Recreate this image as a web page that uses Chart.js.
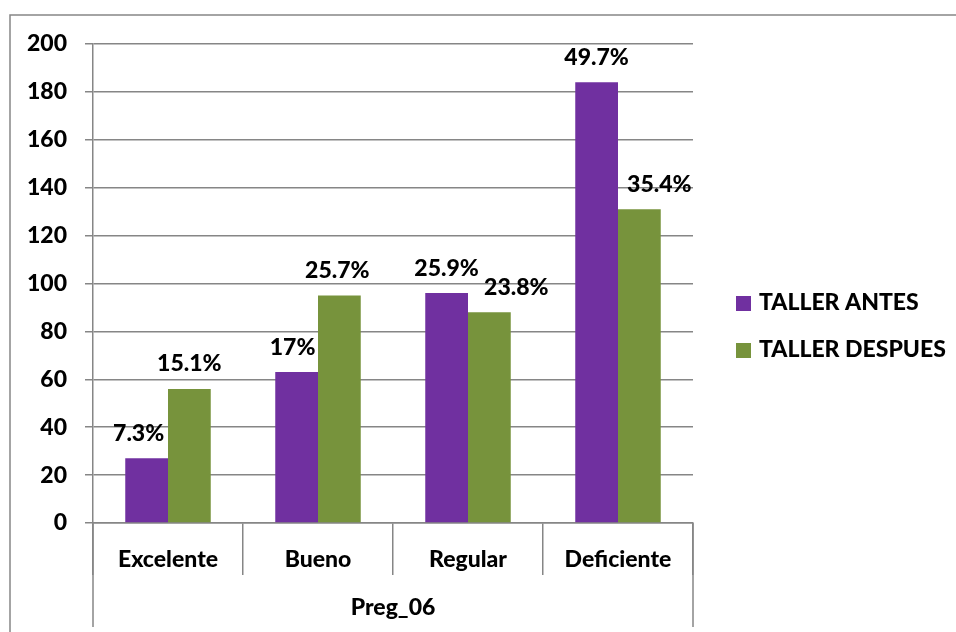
<!DOCTYPE html>
<html>
<head>
<meta charset="utf-8">
<script src="https://cdn.jsdelivr.net/npm/chart.js@4/dist/chart.umd.min.js"></script>
<style>
  body { margin: 0; background: #fff; }
  canvas { display: block; }
</style>
</head>
<body>
<canvas id="mycanvas" width="956" height="632"></canvas>
<script>
const categories = ['Excelente', 'Bueno', 'Regular', 'Deficiente'];
const antes = [27, 63, 96, 184];
const despues = [56, 95, 88, 131];
const antesPct = ['7.3%', '17%', '25.9%', '49.7%'];
const despuesPct = ['15.1%', '25.7%', '23.8%', '35.4%'];
const seriesNames = ['TALLER ANTES', 'TALLER DESPUES'];
const groupTitle = 'Preg_06';

const FONT = 'Lato, "Open Sans", sans-serif';
const WEIGHT = '900';
const SIZE = 23;
const lineGray = '#868686';

// labels were nudged by hand in the original
const labelShift = [[-8, -4, 0, 0], [0, -2, 27, 20]];

const frame = {
    id: 'frame',
    beforeDraw(chart) {
        const ctx = chart.ctx;
        ctx.save();
        ctx.strokeStyle = lineGray;
        ctx.lineWidth = 1.5;
        ctx.beginPath();
        ctx.moveTo(10, 632);
        ctx.lineTo(10, 15);
        ctx.lineTo(956, 15);
        ctx.stroke();
        ctx.restore();
    },
    afterDraw(chart) {
        const ctx = chart.ctx;
        const a = chart.chartArea;
        ctx.save();
        ctx.strokeStyle = lineGray;
        ctx.lineWidth = 1.5;
        ctx.beginPath();
        ctx.moveTo(a.left, a.bottom);
        ctx.lineTo(a.left, chart.height - 5);
        ctx.moveTo(a.right, a.bottom);
        ctx.lineTo(a.right, chart.height - 5);
        ctx.stroke();

        // legend
        ctx.font = WEIGHT + ' ' + SIZE + 'px ' + FONT;
        ctx.textBaseline = 'middle';
        ctx.textAlign = 'left';
        chart.data.datasets.forEach((ds, i) => {
            const y = 303 + i * 47;
            ctx.fillStyle = ds.backgroundColor;
            ctx.fillRect(a.right + 43, y - 7, 15, 15);
            ctx.fillStyle = '#000';
            ctx.fillText(ds.label, a.right + 66, y);
        });
        ctx.restore();
    }
};

const pctLabels = {
    id: 'pctLabels',
    afterDatasetsDraw(chart) {
        const ctx = chart.ctx;
        const texts = [antesPct, despuesPct];
        ctx.save();
        ctx.font = WEIGHT + ' ' + SIZE + 'px ' + FONT;
        ctx.fillStyle = '#000';
        ctx.textAlign = 'center';
        ctx.textBaseline = 'middle';
        chart.data.datasets.forEach((ds, d) => {
            chart.getDatasetMeta(d).data.forEach((bar, i) => {
                ctx.fillText(texts[d][i], bar.x + labelShift[d][i], bar.y - 25);
            });
        });
        ctx.restore();
    }
};

const tickFont = { family: FONT, size: SIZE, weight: WEIGHT };

const mycanvas = document.getElementById('mycanvas').getContext('2d');
const chart = new Chart(mycanvas, {
    type: 'bar',
    data: {
        labels: categories,
        datasets: [
            {
                label: seriesNames[0],
                data: antes,
                backgroundColor: '#7030A0',
                borderWidth: 0,
                categoryPercentage: 0.57,
                barPercentage: 1
            },
            {
                label: seriesNames[1],
                data: despues,
                backgroundColor: '#77933C',
                borderWidth: 0,
                categoryPercentage: 0.57,
                barPercentage: 1
            }
        ]
    },
    options: {
        responsive: false,
        animation: false,
        events: [],
        layout: {
            padding: { left: 0, top: 44, right: 263, bottom: 0 }
        },
        plugins: {
            legend: { display: false },
            tooltip: { enabled: false }
        },
        scales: {
            x: {
                grid: {
                    offset: true,
                    drawOnChartArea: false,
                    tickLength: 52,
                    color: lineGray,
                    lineWidth: 1.5
                },
                border: { color: lineGray, width: 1.5 },
                ticks: {
                    color: '#000',
                    padding: -29,
                    font: tickFont
                },
                title: {
                    display: true,
                    text: groupTitle,
                    color: '#000',
                    padding: { top: 0, bottom: 11 },
                    font: tickFont
                },
                afterFit(scale) { scale.height = 109; }
            },
            y: {
                min: 0,
                max: 200,
                grid: {
                    color: lineGray,
                    lineWidth: 1.5,
                    tickLength: 8
                },
                border: { color: lineGray, width: 1.5 },
                ticks: {
                    stepSize: 20,
                    color: '#000',
                    padding: 18,
                    font: tickFont
                },
                afterFit(scale) { scale.width = 93; }
            }
        }
    },
    plugins: [frame, pctLabels]
});
</script>
</body>
</html>
